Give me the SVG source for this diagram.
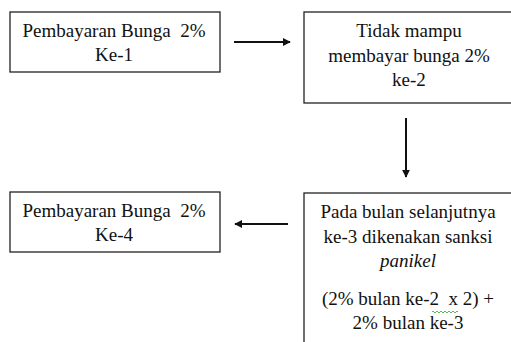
<svg xmlns="http://www.w3.org/2000/svg" width="511" height="342" viewBox="0 0 511 342">
<style>
.box{fill:#fff;stroke:#222;stroke-width:1.3}
.t{font-family:"Liberation Serif",serif;font-size:19px;fill:#111;text-anchor:middle}
.c{stroke:#111;stroke-width:2;fill:none}
</style>
<defs>
<marker id="ah" viewBox="0 0 10 10" refX="9" refY="5" markerWidth="4" markerHeight="4" orient="auto" markerUnits="strokeWidth">
<path d="M0,0 L10,5 L0,10 z" fill="#111"/>
</marker>
</defs>
<rect width="511" height="342" fill="#fff"/>
<g id="n1">
<rect class="box" x="10" y="12" width="210" height="60"/>
<text class="t" x="114" y="37" xml:space="preserve">Pembayaran Bunga  2%</text>
<text class="t" x="114" y="61">Ke-1</text>
</g>
<g id="n2">
<rect class="box" x="304" y="12" width="210" height="91"/>
<text class="t" x="409" y="37">Tidak mampu</text>
<text class="t" x="409" y="62">membayar bunga 2%</text>
<text class="t" x="409" y="86">ke-2</text>
</g>
<g id="n3">
<rect class="box" x="10" y="192" width="210" height="60"/>
<text class="t" x="114" y="217" xml:space="preserve">Pembayaran Bunga  2%</text>
<text class="t" x="114" y="241">Ke-4</text>
</g>
<g id="n4">
<rect class="box" x="304" y="193" width="210" height="160"/>
<text class="t" x="408" y="218">Pada bulan selanjutnya</text>
<text class="t" x="408" y="243">ke-3 dikenakan sanksi</text>
<text class="t" x="408" y="267" font-style="italic">panikel</text>
<text class="t" x="408" y="305" xml:space="preserve">(2% bulan ke-2  x 2) +</text>
<text class="t" x="408" y="329">2% bulan ke-3</text>
<path d="M432,312 q1,-2 2,0 t2,0 t2,0 t2,0 t2,0 t2,0 t2,0 t2,0 t2,0 t2,0 t2,0 t2,0 t2,0" stroke="#3a3" stroke-width="0.8" fill="none"/>
</g>
<g id="connectors">
<line class="c" x1="234" y1="42" x2="290" y2="42" marker-end="url(#ah)"/>
<line class="c" x1="406" y1="118" x2="406" y2="177" marker-end="url(#ah)"/>
<line class="c" x1="288" y1="224" x2="235" y2="224" marker-end="url(#ah)"/>
</g>
</svg>
